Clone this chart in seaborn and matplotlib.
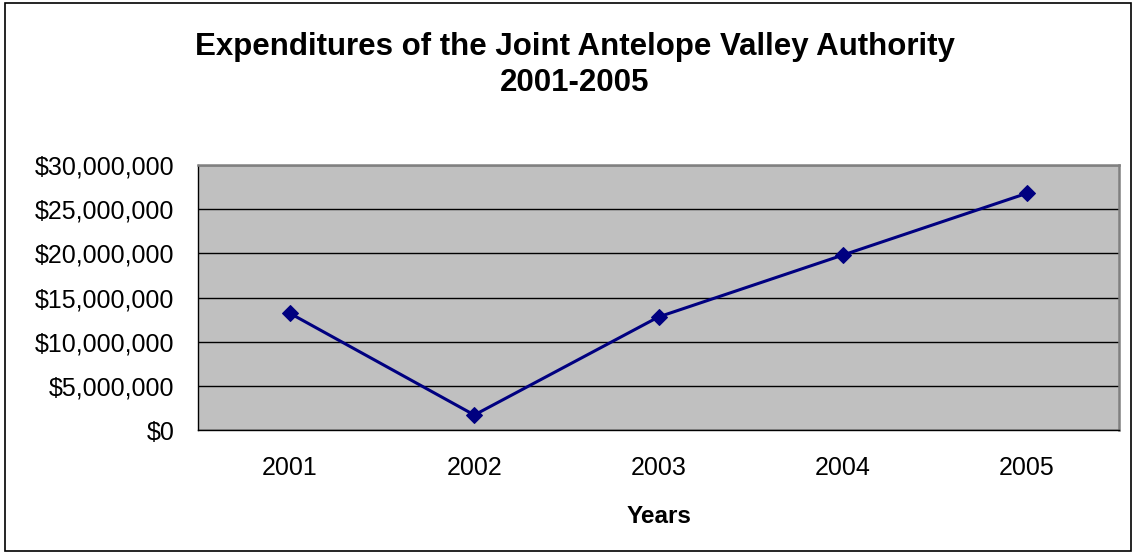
import matplotlib
matplotlib.use("Agg")
import matplotlib.pyplot as plt
from matplotlib.ticker import FuncFormatter, FixedLocator
import seaborn as sns
import pandas as pd

years = ["2001", "2002", "2003", "2004", "2005"]
expenditures = [13200000, 1700000, 12800000, 19800000, 26800000]

df = pd.DataFrame({"year": years, "spent": expenditures})

sns.set_style("white")
plt.rcParams["font.family"] = ["Liberation Sans", "DejaVu Sans"]
plt.rcParams["text.color"] = "black"
plt.rcParams["axes.labelcolor"] = "black"
plt.rcParams["xtick.color"] = "black"
plt.rcParams["ytick.color"] = "black"

fig = plt.figure(figsize=(11.34, 5.53), dpi=100)
ax = fig.add_axes([0.1746, 0.2224, 0.9868 - 0.1746, 0.7016 - 0.2224])
ax.set_facecolor("#c0c0c0")

sns.lineplot(data=df, x="year", y="spent", ax=ax, color="#000080", linewidth=2.2,
             marker="D", markersize=8, markeredgecolor="#000080", sort=False)

ax.set_ylim(0, 30000000)
ax.set_xlim(-0.5, len(years) - 0.5)
ax.set_yticks(range(0, 30000001, 5000000))
ax.yaxis.set_major_formatter(FuncFormatter(lambda v, p: "${:,.0f}".format(v)))
ax.yaxis.grid(True, color="black", linewidth=1)
ax.set_axisbelow(True)

# category ticks sit between the categories, labels centred
ax.xaxis.set_major_locator(FixedLocator([i - 0.5 for i in range(len(years) + 1)]))
ax.xaxis.set_minor_locator(FixedLocator(range(len(years))))
ax.set_xticklabels([], minor=False)
ax.set_xticklabels(years, minor=True)
ax.tick_params(axis="x", which="major", length=6, width=1, direction="out")
ax.tick_params(axis="x", which="minor", length=0, pad=19, labelsize=18)
ax.tick_params(axis="y", length=6, width=1, direction="out", labelsize=18, pad=11)

for s in ["top", "right"]:
    ax.spines[s].set_color("#808080")
    ax.spines[s].set_linewidth(1.8)
for s in ["left", "bottom"]:
    ax.spines[s].set_color("black")
    ax.spines[s].set_linewidth(1)

ax.set_xlabel("Years", fontsize=17.5, fontweight="bold", labelpad=18)
ax.set_ylabel("")
fig.text(0.507, 0.882, "Expenditures of the Joint Antelope Valley Authority\n2001-2005",
         ha="center", va="center", fontsize=22.5, fontweight="bold", linespacing=1.25)

border = plt.Rectangle((0.004, 0.004), 0.993, 0.991, transform=fig.transFigure,
                       fill=False, edgecolor="black", linewidth=1.2)
fig.patches.append(border)

fig.savefig("out.png", dpi=100)
